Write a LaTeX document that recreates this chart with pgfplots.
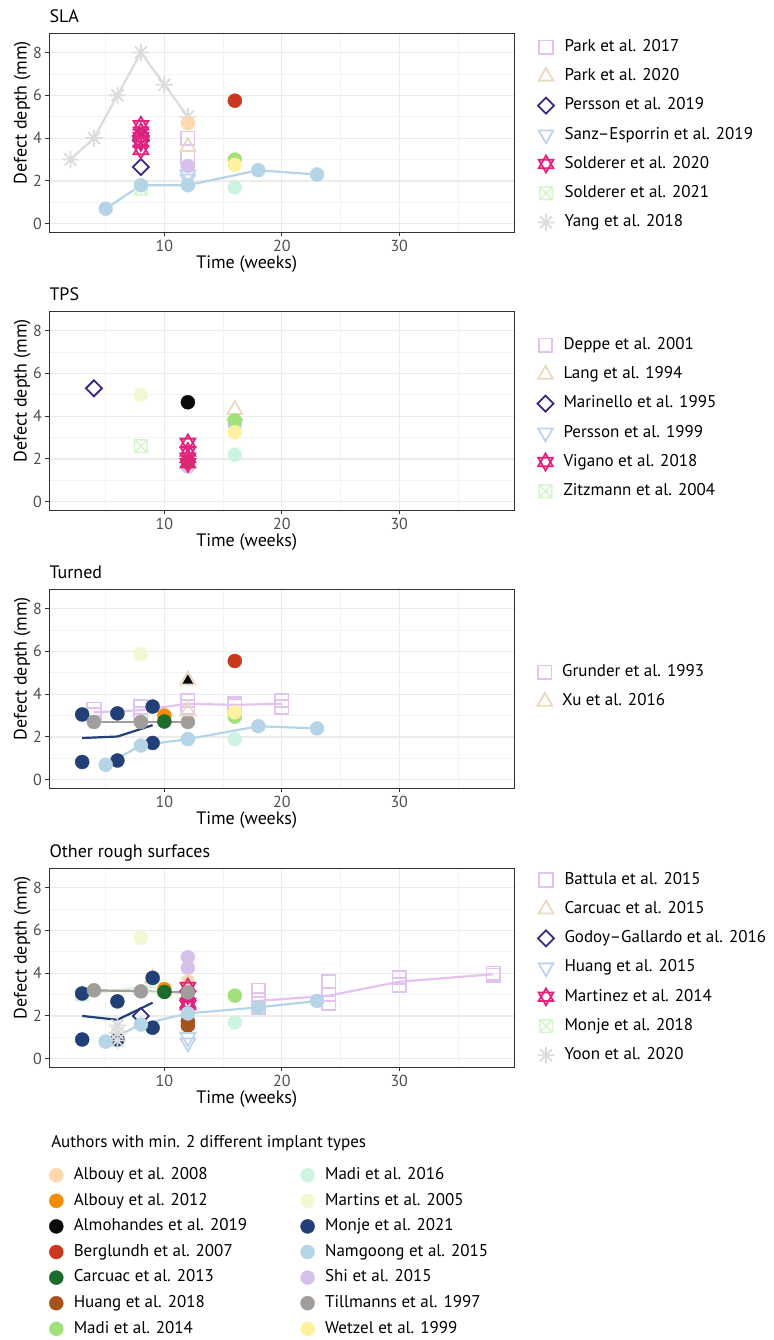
\documentclass[border=0pt]{standalone}
\usepackage{pgfplots}
\pgfplotsset{compat=1.18}
\usepackage{fontspec}
\setmainfont{PT Sans}

\definecolor{sqc}{HTML}{E2C3F0}
\definecolor{tric}{HTML}{E9D9C0}
\definecolor{diac}{HTML}{2E2A86}
\definecolor{tdc}{HTML}{BDD4EC}
\definecolor{davc}{HTML}{E2237E}
\definecolor{bxc}{HTML}{D6F5CE}
\definecolor{astc}{HTML}{DCDCDC}
\definecolor{alb08}{HTML}{FED9AE}
\definecolor{alb12}{HTML}{F58A07}
\definecolor{alm19}{HTML}{0A0A0A}
\definecolor{ber07}{HTML}{C9381F}
\definecolor{car13}{HTML}{1C6B2F}
\definecolor{hua18}{HTML}{A5521D}
\definecolor{mad14}{HTML}{A2E07A}
\definecolor{mad16}{HTML}{CDF4E0}
\definecolor{mar05}{HTML}{F2F8D2}
\definecolor{mon21}{HTML}{223F78}
\definecolor{nam15}{HTML}{B5D5E7}
\definecolor{shi15}{HTML}{D6C1EB}
\definecolor{til97}{HTML}{A09D9B}
\definecolor{wet99}{HTML}{FEF29E}
\definecolor{gridmaj}{HTML}{EBEBEB}
\definecolor{gridmin}{HTML}{F3F3F3}
\definecolor{axisc}{HTML}{333333}
\definecolor{tickc}{HTML}{4D4D4D}

\newcommand{\tickfont}{\fontsize{16}{18}\selectfont}
\newcommand{\labfont}{\fontsize{18}{21}\selectfont}
\newcommand{\legfont}{\fontsize{17}{20}\selectfont}
\newcommand{\brow}[1]{\makebox[210pt][l]{#1}}

\pgfdeclareplotmark{tup}{%
 \pgfpathmoveto{\pgfqpointpolar{90}{\pgfplotmarksize}}%
 \pgfpathlineto{\pgfqpointpolar{210}{\pgfplotmarksize}}%
 \pgfpathlineto{\pgfqpointpolar{330}{\pgfplotmarksize}}%
 \pgfpathclose\pgfusepathqstroke}
\pgfdeclareplotmark{tupf}{%
 \pgfpathmoveto{\pgfqpointpolar{90}{\pgfplotmarksize}}%
 \pgfpathlineto{\pgfqpointpolar{210}{\pgfplotmarksize}}%
 \pgfpathlineto{\pgfqpointpolar{330}{\pgfplotmarksize}}%
 \pgfpathclose\pgfusepathqfill}
\pgfdeclareplotmark{tdown}{%
 \pgfpathmoveto{\pgfqpointpolar{270}{\pgfplotmarksize}}%
 \pgfpathlineto{\pgfqpointpolar{30}{\pgfplotmarksize}}%
 \pgfpathlineto{\pgfqpointpolar{150}{\pgfplotmarksize}}%
 \pgfpathclose\pgfusepathqstroke}
\pgfdeclareplotmark{david}{%
 \pgfpathmoveto{\pgfqpointpolar{90}{\pgfplotmarksize}}%
 \pgfpathlineto{\pgfqpointpolar{210}{\pgfplotmarksize}}%
 \pgfpathlineto{\pgfqpointpolar{330}{\pgfplotmarksize}}%
 \pgfpathclose
 \pgfpathmoveto{\pgfqpointpolar{270}{\pgfplotmarksize}}%
 \pgfpathlineto{\pgfqpointpolar{30}{\pgfplotmarksize}}%
 \pgfpathlineto{\pgfqpointpolar{150}{\pgfplotmarksize}}%
 \pgfpathclose\pgfusepathqstroke}
\pgfdeclareplotmark{dia}{%
 \pgfpathmoveto{\pgfqpoint{0pt}{\pgfplotmarksize}}%
 \pgfpathlineto{\pgfqpoint{\pgfplotmarksize}{0pt}}%
 \pgfpathlineto{\pgfqpoint{0pt}{-\pgfplotmarksize}}%
 \pgfpathlineto{\pgfqpoint{-\pgfplotmarksize}{0pt}}%
 \pgfpathclose\pgfusepathqstroke}
\pgfdeclareplotmark{boxx}{%
 \pgfpathrectangle{\pgfqpoint{-\pgfplotmarksize}{-\pgfplotmarksize}}{\pgfqpoint{2\pgfplotmarksize}{2\pgfplotmarksize}}%
 \pgfpathmoveto{\pgfqpoint{-\pgfplotmarksize}{-\pgfplotmarksize}}%
 \pgfpathlineto{\pgfqpoint{\pgfplotmarksize}{\pgfplotmarksize}}%
 \pgfpathmoveto{\pgfqpoint{-\pgfplotmarksize}{\pgfplotmarksize}}%
 \pgfpathlineto{\pgfqpoint{\pgfplotmarksize}{-\pgfplotmarksize}}%
 \pgfusepathqstroke}
\pgfdeclareplotmark{ast8}{%
 \pgfpathmoveto{\pgfqpoint{-\pgfplotmarksize}{0pt}}\pgfpathlineto{\pgfqpoint{\pgfplotmarksize}{0pt}}%
 \pgfpathmoveto{\pgfqpoint{0pt}{-\pgfplotmarksize}}\pgfpathlineto{\pgfqpoint{0pt}{\pgfplotmarksize}}%
 \pgfpathmoveto{\pgfqpointpolar{45}{\pgfplotmarksize}}\pgfpathlineto{\pgfqpointpolar{225}{\pgfplotmarksize}}%
 \pgfpathmoveto{\pgfqpointpolar{135}{\pgfplotmarksize}}\pgfpathlineto{\pgfqpointpolar{315}{\pgfplotmarksize}}%
 \pgfusepathqstroke}

\tikzset{
 msq/.style={mark=square, mark size=6.7pt, color=sqc, mark options={line width=1.8pt, solid}},
 mtri/.style={mark=tup, mark size=8.5pt, color=tric, mark options={line width=1.8pt, solid}},
 mdia/.style={mark=dia, mark size=8pt, color=diac, mark options={line width=1.8pt, solid}},
 mtd/.style={mark=tdown, mark size=8.5pt, color=tdc, mark options={line width=1.8pt, solid}},
 mdav/.style={mark=david, mark size=8.5pt, color=davc, mark options={line width=1.8pt, solid}},
 mbox/.style={mark=boxx, mark size=6.3pt, color=bxc, mark options={line width=1.6pt, solid}},
 mast/.style={mark=ast8, mark size=8.5pt, color=astc, mark options={line width=1.8pt, solid}},
 mc/.style={mark=*, mark size=7pt, color=#1, mark options={line width=0.4pt, solid}},
 ln/.style={no marks, color=#1, line width=2.2pt},
}

\pgfplotsset{
 every axis title shift=0pt,
 panel/.style={
  scale only axis, width=465pt, height=199pt, anchor=north west,
  xmin=0.2, xmax=39.8, ymin=-0.4, ymax=8.9,
  xtick={10,20,30}, ytick={0,2,4,6,8},
  minor xtick={5,15,25,35}, minor ytick={1,3,5,7},
  grid=both,
  major grid style={draw=gridmaj, line width=1.2pt},
  minor grid style={draw=gridmin, line width=0.7pt},
  axis line style={draw=axisc, line width=1.1pt},
  tick style={draw=axisc, line width=1pt},
  major tick length=4pt, minor tick length=0pt,
  tick align=outside, tick pos=left,
  tick label style={font=\tickfont, color=tickc},
  /pgf/number format/assume math mode=true,
  xlabel={Time (weeks)}, ylabel={Defect depth (mm)},
  label style={font=\labfont, color=black},
  xlabel style={at={(axis description cs:0.4245,-0.1824)}, anchor=base, inner sep=0pt},
  ylabel style={at={(axis description cs:-0.049,0.601)}, anchor=base, inner sep=0pt},
  title style={at={(axis description cs:0,1)}, anchor=base west, yshift=10.5pt, font=\labfont, inner sep=0pt},
  legend cell align=left,
  legend image code/.code={\path[draw=none,fill=none] (0pt,-15.6pt) rectangle (0pt,13.6pt); \draw[##1] plot coordinates {(0pt,-1pt)};},
  legend style={draw=none, fill=none, inner sep=0pt, row sep=0pt, font=\legfont,
    nodes={inner sep=0pt},
    /tikz/every odd column/.append style={column sep=10pt}},
 }
}

\begin{document}
\begin{tikzpicture}
\useasboundingbox (0pt,0pt) rectangle (773pt,-1340pt);

% ---------------- SLA
\begin{axis}[panel, at={(49.3pt,-33.3pt)}, title={SLA},
  legend style={at={(axis description cs:1,1)}, anchor=north west, xshift=23pt, yshift=0.9pt}]
\addplot[mast, line width=2.2pt, forget plot] coordinates {(2,3) (4,4) (6,6) (8,8) (10,6.5) (12,5)};
\addplot[ln=nam15, forget plot] coordinates {(5,0.7) (8,1.8) (12,1.8) (18,2.5) (23,2.3)};
\addplot[only marks, mdia, forget plot] coordinates {(8,2.65) (8,3.9) (8,4.1)};
\addplot[only marks, mdav, forget plot] coordinates {(8,4.6) (8,4.3) (8,4.05) (8,3.8) (8,3.45)};
\addplot[only marks, mbox, forget plot] coordinates {(8,1.65)};
\addplot[only marks, mtd, forget plot] coordinates {(12,2.3) (12,2.1)};
\addplot[only marks, mc=alb08, forget plot] coordinates {(12,4.7)};
\addplot[only marks, msq, forget plot] coordinates {(12,4.0) (12,3.1)};
\addplot[only marks, mtri, forget plot] coordinates {(12,3.6)};
\addplot[only marks, mc=shi15, forget plot] coordinates {(12,2.7)};
\addplot[only marks, mc=nam15, forget plot] coordinates {(5,0.7) (8,1.8) (12,1.8) (18,2.5) (23,2.3)};
\addplot[only marks, mc=ber07, forget plot] coordinates {(16,5.75)};
\addplot[only marks, mc=mad14, forget plot] coordinates {(16,3.0)};
\addplot[only marks, mc=wet99, forget plot] coordinates {(16,2.75)};
\addplot[only marks, mc=mad16, forget plot] coordinates {(16,1.7)};
\addlegendimage{only marks, msq}\addlegendentry{Park et al. 2017}
\addlegendimage{only marks, mtri}\addlegendentry{Park et al. 2020}
\addlegendimage{only marks, mdia}\addlegendentry{Persson et al. 2019}
\addlegendimage{only marks, mtd}\addlegendentry{Sanz--Esporrin et al. 2019}
\addlegendimage{only marks, mdav}\addlegendentry{Solderer et al. 2020}
\addlegendimage{only marks, mbox}\addlegendentry{Solderer et al. 2021}
\addlegendimage{only marks, mast}\addlegendentry{Yang et al. 2018}
\end{axis}

% ---------------- TPS
\begin{axis}[panel, at={(49.3pt,-311.3pt)}, title={TPS},
  legend style={at={(axis description cs:1,1)}, anchor=north west, xshift=23pt, yshift=-19.1pt}]
\addplot[only marks, mdia, forget plot] coordinates {(4,5.3)};
\addplot[only marks, mc=mar05, forget plot] coordinates {(8,5.0)};
\addplot[only marks, mbox, forget plot] coordinates {(8,2.6)};
\addplot[only marks, mc=alm19, forget plot] coordinates {(12,4.65)};
\addplot[only marks, mc=shi15, forget plot] coordinates {(12,1.65)};
\addplot[only marks, mc=hua18, forget plot] coordinates {(12,1.85)};
\addplot[only marks, mdav, forget plot] coordinates {(12,2.75) (12,2.35) (12,2.05) (12,1.8)};
\addplot[only marks, mtri, forget plot] coordinates {(16,4.3)};
\addplot[only marks, mtd, forget plot] coordinates {(16,3.65)};
\addplot[only marks, mc=nam15, forget plot] coordinates {(16,3.6)};
\addplot[only marks, mc=mad14, forget plot] coordinates {(16,3.8)};
\addplot[only marks, mc=wet99, forget plot] coordinates {(16,3.25)};
\addplot[only marks, mc=mad16, forget plot] coordinates {(16,2.2)};
\addlegendimage{only marks, msq}\addlegendentry{Deppe et al. 2001}
\addlegendimage{only marks, mtri}\addlegendentry{Lang et al. 1994}
\addlegendimage{only marks, mdia}\addlegendentry{Marinello et al. 1995}
\addlegendimage{only marks, mtd}\addlegendentry{Persson et al. 1999}
\addlegendimage{only marks, mdav}\addlegendentry{Vigano et al. 2018}
\addlegendimage{only marks, mbox}\addlegendentry{Zitzmann et al. 2004}
\end{axis}

% ---------------- Turned
\begin{axis}[panel, at={(49.3pt,-589.3pt)}, title={Turned},
  legend style={at={(axis description cs:1,1)}, anchor=north west, xshift=23pt, yshift=-68.1pt}]
\addplot[ln=sqc, forget plot] coordinates {(4,3.15) (8,3.25) (12,3.55) (16,3.5) (20,3.55)};
\addplot[only marks, msq, forget plot] coordinates {(4,3.3) (4,3.05) (8,3.4) (8,3.1) (12,3.7) (12,3.4) (16,3.55) (16,3.45) (20,3.7) (20,3.4)};
\addplot[ln=mon21, forget plot] coordinates {(3,1.95) (6,2.02) (9,2.55)};
\addplot[ln=til97, forget plot] coordinates {(4,2.7) (8,2.7) (12,2.7)};
\addplot[ln=nam15, forget plot] coordinates {(5,0.7) (8,1.6) (12,1.9) (18,2.5) (23,2.4)};
\addplot[only marks, mc=mon21, forget plot] coordinates {(3,3.05) (3,0.83) (6,3.1) (6,0.9) (9,3.42) (9,1.72)};
\addplot[only marks, mc=til97, forget plot] coordinates {(4,2.7) (8,2.7) (12,2.7)};
\addplot[only marks, mc=nam15, forget plot] coordinates {(5,0.7) (8,1.6) (12,1.9) (18,2.5) (23,2.4)};
\addplot[only marks, mc=mar05, forget plot] coordinates {(8,5.87)};
\addplot[only marks, mc=alb12, forget plot] coordinates {(10,3.0)};
\addplot[only marks, mc=car13, forget plot] coordinates {(10,2.72)};
\addplot[only marks, mark=tupf, mark size=7pt, color=alm19, forget plot] coordinates {(12,4.6)};
\addplot[only marks, mtri, forget plot] coordinates {(12,4.65) (12,3.2)};
\addplot[only marks, mc=ber07, forget plot] coordinates {(16,5.55)};
\addplot[only marks, mc=mad14, forget plot] coordinates {(16,2.95)};
\addplot[only marks, mc=wet99, forget plot] coordinates {(16,3.15)};
\addplot[only marks, mc=mad16, forget plot] coordinates {(16,1.9)};
\addlegendimage{only marks, msq}\addlegendentry{Grunder et al. 1993}
\addlegendimage{only marks, mtri}\addlegendentry{Xu et al. 2016}
\end{axis}

% ---------------- Other rough surfaces
\begin{axis}[panel, at={(49.3pt,-868.3pt)}, title={Other rough surfaces},
  legend style={at={(axis description cs:1,1)}, anchor=north west, xshift=23pt, yshift=3.1pt}]
\addplot[ln=sqc, forget plot] coordinates {(18,2.7) (24,2.95) (30,3.6) (38,3.95)};
\addplot[only marks, msq, forget plot] coordinates {(18,3.2) (18,2.75) (18,2.4) (24,3.6) (24,3.0) (24,2.6) (30,3.8) (30,3.45) (38,4.0) (38,3.9)};
\addplot[ln=bxc, forget plot] coordinates {(3,3.0) (9,3.4)};
\addplot[only marks, mbox, forget plot] coordinates {(3,3.0) (9,3.4)};
\addplot[only marks, mtri, forget plot] coordinates {(9,3.75)};
\addplot[ln=mon21, forget plot] coordinates {(3,2.0) (6,1.82) (9,2.62)};
\addplot[ln=til97, forget plot] coordinates {(4,3.2) (8,3.15) (12,3.1)};
\addplot[ln=nam15, forget plot] coordinates {(5,0.8) (8,1.6) (12,2.12) (18,2.4) (23,2.7)};
\addplot[only marks, mc=mon21, forget plot] coordinates {(3,3.05) (3,0.9) (6,2.68) (6,0.9) (9,3.78) (9,1.45)};
\addplot[only marks, mast, forget plot] coordinates {(6,1.55) (6,1.2) (6,0.85)};
\addplot[only marks, mdia, forget plot] coordinates {(8,2.0)};
\addplot[only marks, mc=mar05, forget plot] coordinates {(8,5.65)};
\addplot[only marks, mc=alb12, forget plot] coordinates {(10,3.25)};
\addplot[only marks, mc=car13, forget plot] coordinates {(10,3.12)};
\addplot[only marks, mc=shi15, forget plot] coordinates {(12,4.75) (12,4.25)};
\addplot[only marks, mc=alb08, forget plot] coordinates {(12,3.6)};
\addplot[only marks, mc=hua18, forget plot] coordinates {(12,1.55) (12,1.75)};
\addplot[only marks, mtd, forget plot] coordinates {(12,1.0) (12,0.75)};
\addplot[only marks, mdav, forget plot] coordinates {(12,3.35) (12,2.95) (12,2.6) (12,2.5)};
\addplot[only marks, mc=til97, forget plot] coordinates {(4,3.2) (8,3.15) (12,3.1)};
\addplot[only marks, mc=nam15, forget plot] coordinates {(5,0.8) (8,1.6) (12,2.12) (18,2.4) (23,2.7)};
\addplot[only marks, mc=mad14, forget plot] coordinates {(16,2.95)};
\addplot[only marks, mc=mad16, forget plot] coordinates {(16,1.7)};
\addlegendimage{only marks, msq}\addlegendentry{Battula et al. 2015}
\addlegendimage{only marks, mtri}\addlegendentry{Carcuac et al. 2015}
\addlegendimage{only marks, mdia}\addlegendentry{Godoy--Gallardo et al. 2016}
\addlegendimage{only marks, mtd}\addlegendentry{Huang et al. 2015}
\addlegendimage{only marks, mdav}\addlegendentry{Martinez et al. 2014}
\addlegendimage{only marks, mbox}\addlegendentry{Monje et al. 2018}
\addlegendimage{only marks, mast}\addlegendentry{Yoon et al. 2020}
\end{axis}

% ---------------- bottom colour legend
\begin{axis}[scale only axis, width=10pt, height=10pt, at={(49.1pt,-1162.2pt)}, anchor=north west,
  axis lines=none, xtick=\empty, ytick=\empty, xmin=0, xmax=1, ymin=0, ymax=1,
  title={Authors with min. 2 different implant types},
  title style={at={(axis description cs:0,1)}, anchor=base west, yshift=15.2pt, xshift=2pt, font=\legfont, inner sep=0pt},
  legend columns=2, legend cell align=left,
  legend image code/.code={\path[draw=none,fill=none] (0pt,-13.8pt) rectangle (0pt,11.8pt); \draw[#1] plot coordinates {(0pt,-1pt)};},
  legend style={at={(axis description cs:0,1)}, anchor=north west, draw=none, fill=none,
    inner sep=0pt, row sep=0pt, font=\legfont, nodes={inner sep=0pt},
    /tikz/every odd column/.append style={column sep=10.5pt},
    /tikz/column 2/.append style={column sep=16.8pt}}]
\addplot[draw=none, forget plot] coordinates {(0,0)};
\addlegendimage{only marks, mc=alb08}\addlegendentry{\brow{Albouy et al. 2008}}
\addlegendimage{only marks, mc=mad16}\addlegendentry{\brow{Madi et al. 2016}}
\addlegendimage{only marks, mc=alb12}\addlegendentry{\brow{Albouy et al. 2012}}
\addlegendimage{only marks, mc=mar05}\addlegendentry{\brow{Martins et al. 2005}}
\addlegendimage{only marks, mc=alm19}\addlegendentry{\brow{Almohandes et al. 2019}}
\addlegendimage{only marks, mc=mon21}\addlegendentry{\brow{Monje et al. 2021}}
\addlegendimage{only marks, mc=ber07}\addlegendentry{\brow{Berglundh et al. 2007}}
\addlegendimage{only marks, mc=nam15}\addlegendentry{\brow{Namgoong et al. 2015}}
\addlegendimage{only marks, mc=car13}\addlegendentry{\brow{Carcuac et al. 2013}}
\addlegendimage{only marks, mc=shi15}\addlegendentry{\brow{Shi et al. 2015}}
\addlegendimage{only marks, mc=hua18}\addlegendentry{\brow{Huang et al. 2018}}
\addlegendimage{only marks, mc=til97}\addlegendentry{\brow{Tillmanns et al. 1997}}
\addlegendimage{only marks, mc=mad14}\addlegendentry{\brow{Madi et al. 2014}}
\addlegendimage{only marks, mc=wet99}\addlegendentry{\brow{Wetzel et al. 1999}}
\end{axis}
\end{tikzpicture}
\end{document}
